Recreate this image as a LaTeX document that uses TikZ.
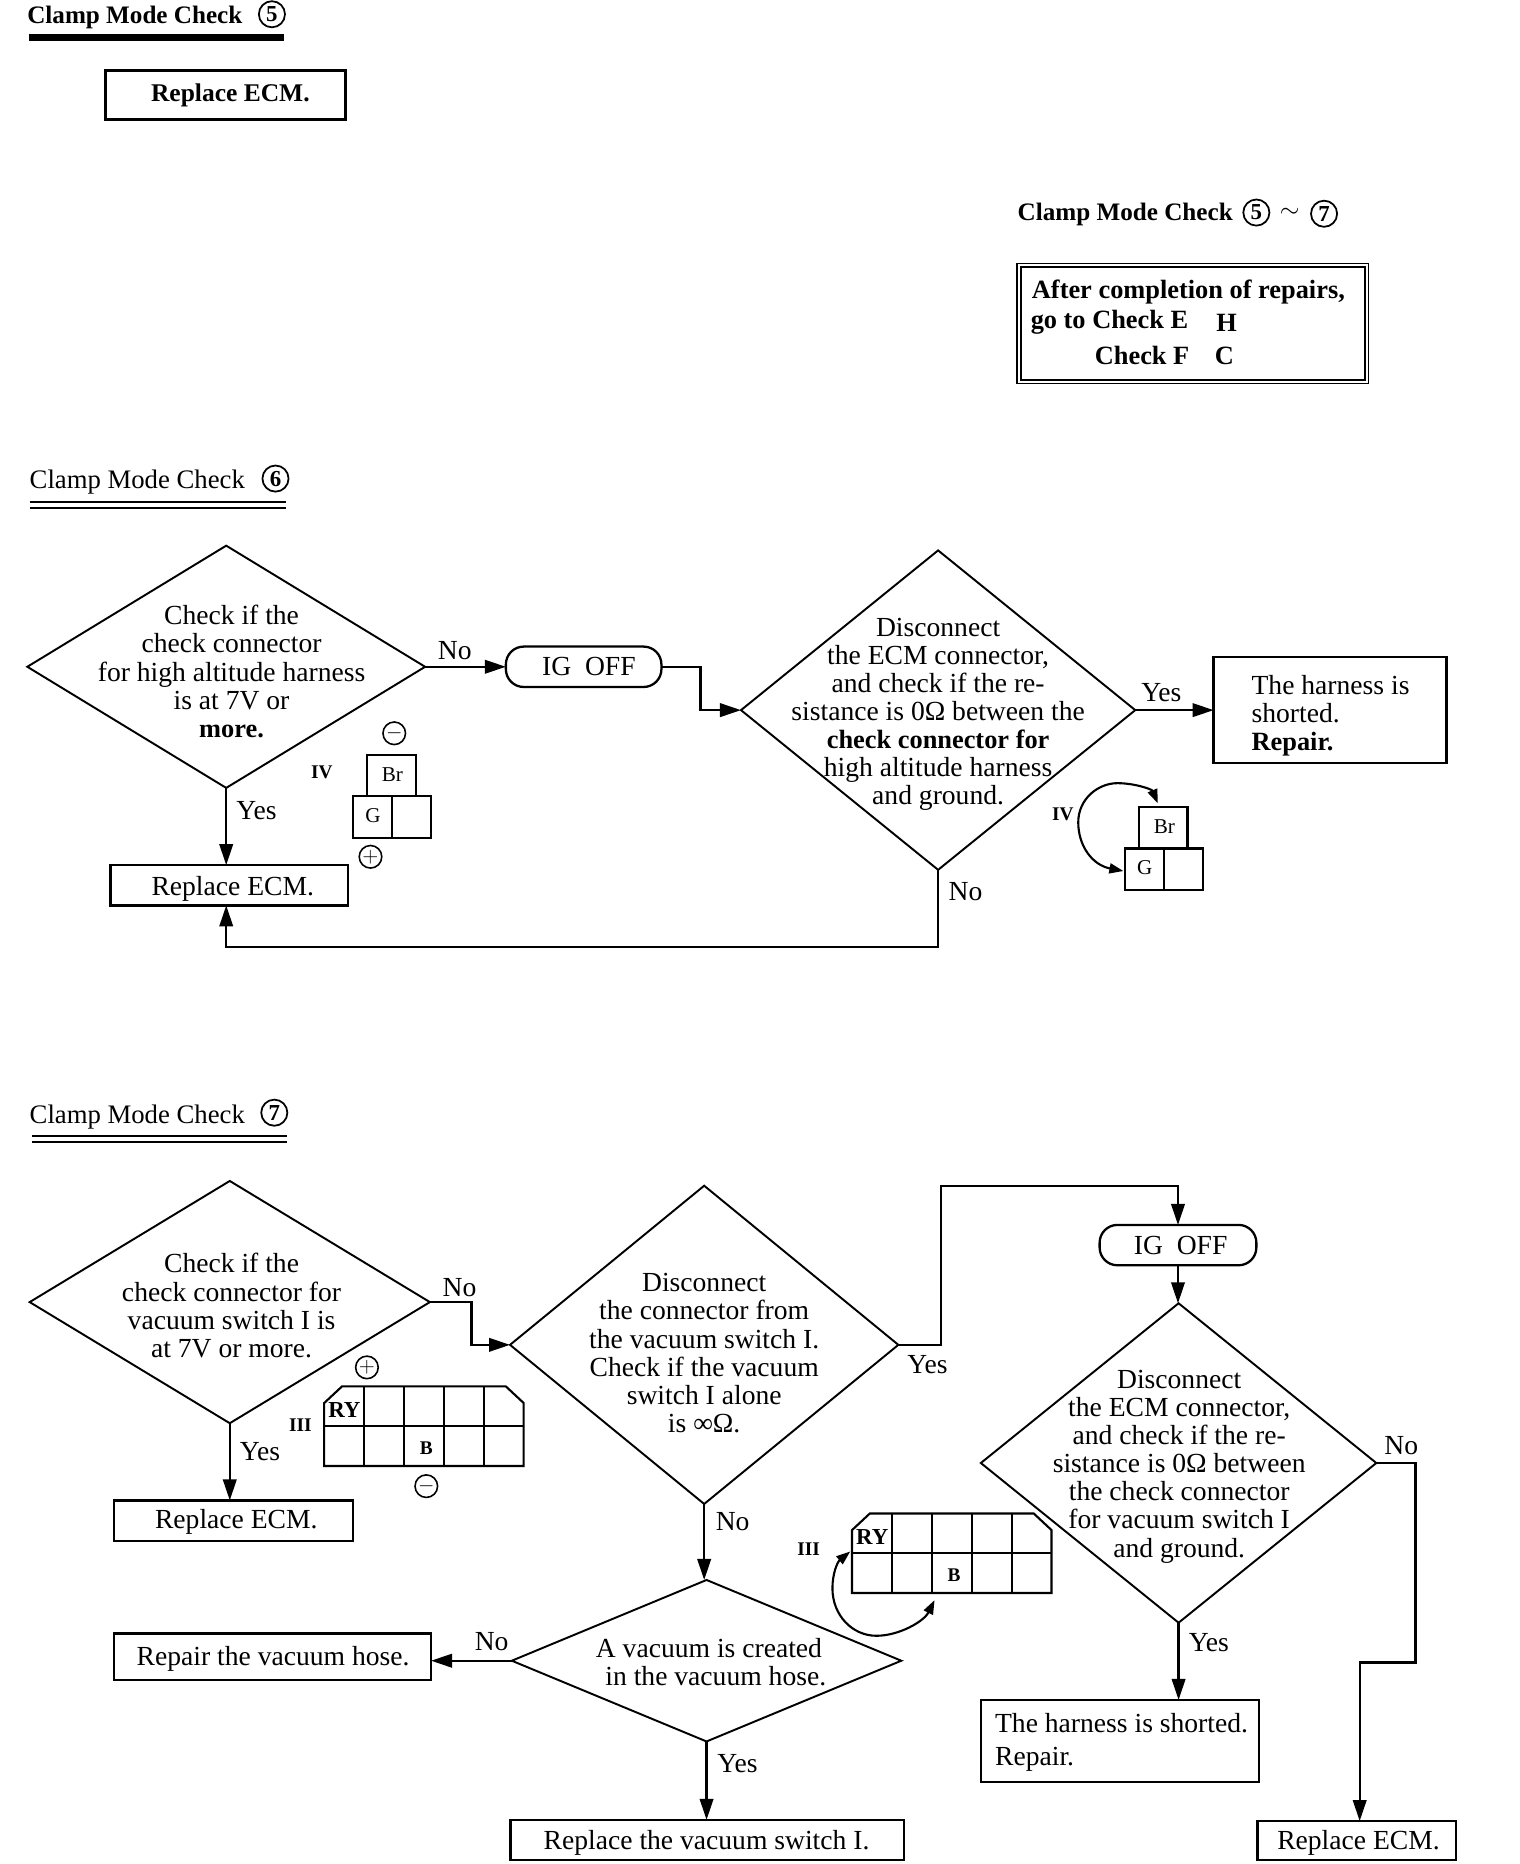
\documentclass[tikz,border=0pt]{standalone}
\usepackage{fontspec}
\setmainfont{Liberation Serif}
\usetikzlibrary{shapes.geometric,arrows.meta}

\def\un{0.02375cm}
\newcommand{\boldtxt}{\fontsize{15}{16}\selectfont\bfseries}

\tikzset{
	every node/.style={font=\fontsize{15.7}{16}\selectfont, inner sep=0pt, outer sep=0pt},
	sized/.style 2 args={minimum width=#1*\un, minimum height=#2*\un},
	decision/.style={draw, shape=diamond, line width=1.1pt},
	actionbox/.style={draw, rectangle, line width=1.3pt, align=left},
	igbox/.style={draw, rectangle, rounded corners=15*\un, line width=1.3pt},
	txt/.style={align=center},
	header/.style={anchor=base west, font=\fontsize{15.2}{16}\selectfont},
	boldheader/.style={anchor=base west, font=\fontsize{14.3}{16}\selectfont\bfseries},
	circnum/.style={draw, circle, line width=1pt, minimum size=22*\un, font=\fontsize{13}{13}\selectfont\bfseries},
	circsign/.style={draw, circle, line width=0.9pt, minimum size=19*\un, font=\fontsize{12}{12}\selectfont\bfseries},
	termfont/.style={font=\fontsize{12}{12}\selectfont},
	romfont/.style={font=\fontsize{11}{11}\selectfont\bfseries},
	flow/.style={line width=1.3pt, -{Triangle[length=4.2mm,width=2.7mm]}},
	probe/.style={line width=1.2pt, {Triangle[length=2.8mm,width=2mm]}-{Triangle[length=2.8mm,width=2mm]}},
	term/.style={line width=1.2pt}
}

\begin{document}
\begin{tikzpicture}[x=\un, y=-\un]
	\path[use as bounding box] (0,-1.5) rectangle (1280,1568.2);

	%check 5
	\node[boldheader] (headFive) at (23,18.5) {Clamp Mode Check};
	\node[circnum] (numFive) at (229,10.5) {5};
	\draw[line width=4pt] (24,30) -- (239,30);
	\node[actionbox, sized={202}{41}, line width=1.6pt] (replaceA) at (190,78.5) {};
	\node[txt, font=\fontsize{14.5}{16}\selectfont\bfseries] (replaceAtxt) at (194,79) {Replace ECM.};

	%repairs note
	\node[boldheader] (headNote) at (857,184.5) {Clamp Mode Check};
	\node[circnum] (numNoteA) at (1058,177.5) {5};
	\node (tildeNote) at (1086,178) {$\sim$};
	\node[circnum] (numNoteB) at (1115,178.5) {7};
	\node[draw, rectangle, double, double distance=1.2pt, line width=0.9pt, sized={293}{98}] (noteBox) at (1004.5,271) {};
	\node[anchor=west, font=\boldtxt] (noteA) at (869,244) {After completion of repairs,};
	\node[anchor=west, font=\boldtxt] (noteB) at (868,270) {go to Check E};
	\node[anchor=west, font=\boldtxt] (noteC) at (922,298) {Check F};
	\node[font=\boldtxt] (noteD) at (1033,270) {H};
	\node[font=\boldtxt] (noteE) at (1031,298) {C};

	%check 6
	\node[header] (headSix) at (25,409.5) {Clamp Mode Check};
	\node[circnum] (numSix) at (232,401.5) {6};
	\draw[line width=1pt] (25,421.5) -- (241,421.5);
	\draw[line width=1pt] (25,426) -- (241,426);

	\node[decision, sized={335}{204}] (chkHigh) at (190.5,560) {};
	\node[txt] (chkHighTxt) at (195,564) {Check if the\\check connector\\for high altitude harness\\is at 7V or\\\boldtxt more.};
	\node[igbox, sized={131}{34}] (igOffA) at (491.5,560) {\hspace*{6pt}IG\ \ OFF};
	\node[decision, sized={332}{269}] (discEcmA) at (790,596.5) {};
	\node[txt] (discEcmAtxt) at (790,600) {Disconnect\\the ECM connector,\\and check if the re-\\sistance is 0Ω between the\\\boldtxt check connector for\\high altitude harness\\and ground.};
	\node[actionbox, sized={196}{89}] (shortedA) at (1120,596.5) {};
	\node[anchor=west, align=left] (shortedAtxt) at (1054,601) {The harness is\\shorted.\\\boldtxt Repair.};
	\node[actionbox, sized={200}{34}] (replaceB) at (193,744) {};
	\node[txt] (replaceBtxt) at (196,747) {Replace ECM.};

	\draw[flow] (chkHigh.east) -- (igOffA.west);
	\draw[flow] (igOffA.east) -- ++(33,0) |- (discEcmA.west);
	\draw[flow] (discEcmA.east) -- (shortedA.west |- discEcmA.east);
	\draw[flow] (chkHigh.south) -- (chkHigh.south |- replaceB.north);
	\draw[flow] (discEcmA.south) -- ++(0,65) -| (chkHigh.south |- replaceB.south);

	\node (noA) at (383,546) {No};
	\node (yesA) at (216,681) {Yes};
	\node (yesB) at (978,582) {Yes};
	\node (noB) at (813,749) {No};

	%connector IV, both views
	\foreach \bx/\by/\bn in {297/634/left,947/678/right}{
		\draw[term] (\bx+12,\by+35) rectangle (\bx+53,\by);
		\draw[term] (\bx,\by+35) rectangle (\bx+66,\by+70);
		\draw[term] (\bx+33,\by+35) -- (\bx+33,\by+70);
		\node[termfont] (br\bn) at (\bx+33.5,\by+17) {Br};
		\node[termfont] (g\bn) at (\bx+17,\by+51) {G};
	}
	\node[romfont] (romA) at (271,649) {IV};
	\node[romfont] (romB) at (895,684) {IV};
	\node[circsign] (signMinusA) at (332,616) {$-$};
	\node[circsign] (signPlusA) at (312,720) {$+$};
	\coordinate (probeBr) at (975,675);
	\coordinate (probeG) at (946,732);
	\draw[probe] (probeG) .. controls (920,727) and (908,711) .. (908,691)
		.. controls (908,671) and (925,658) .. (941,658)
		.. controls (955,658) and (970,663) .. (probeBr);

	%check 7
	\node[header] (headSeven) at (25,944.5) {Clamp Mode Check};
	\node[circnum] (numSeven) at (231,935.5) {7};
	\draw[line width=1pt] (27,955) -- (242,955);
	\draw[line width=1.4pt] (27,960) -- (242,960);

	\node[decision, sized={337}{204}] (chkVac) at (193.5,1095) {};
	\node[txt] (chkVacTxt) at (195,1098) {Check if the\\check connector for\\vacuum switch I is\\at 7V or more.};
	\node[decision, sized={327}{268}] (discVac) at (593,1131) {};
	\node[txt] (discVacTxt) at (593,1138) {Disconnect\\the connector from\\the vacuum switch I.\\Check if the vacuum\\switch I alone\\is ∞Ω.};
	\node[igbox, sized={132}{34}] (igOffB) at (992,1047) {\hspace*{3pt}IG\ \ OFF};
	\node[decision, sized={333}{269}] (discEcmB) at (992.5,1230.5) {};
	\node[txt] (discEcmBtxt) at (993,1233.5) {Disconnect\\the ECM connector,\\and check if the re-\\sistance is 0Ω between\\the check connector\\for vacuum switch I\\and ground.};
	\node[decision, sized={328}{136}] (chkHose) at (595,1397) {};
	\node[txt] (chkHoseTxt) at (597,1398) {A vacuum is created\\\ \ in the vacuum hose.};
	\node[actionbox, sized={201}{34}] (replaceC) at (196.5,1279) {};
	\node[txt] (replaceCtxt) at (199,1280) {Replace ECM.};
	\node[actionbox, sized={267}{39}] (repairHose) at (229.5,1393.5) {};
	\node[txt] (repairHoseTxt) at (230,1395.5) {Repair the vacuum hose.};
	\node[actionbox, sized={331}{34}] (replaceSwitch) at (595.5,1548) {};
	\node[txt] (replaceSwitchTxt) at (595,1550) {Replace the vacuum switch I.};
	\node[actionbox, sized={234}{69}] (shortedB) at (943,1464.5) {};
	\node[anchor=west, align=left, font=\fontsize{15.7}{18.85}\selectfont] (shortedBtxt) at (838,1466) {The harness is shorted.\\Repair.};
	\node[actionbox, sized={167}{33}] (replaceD) at (1142.5,1548.5) {};
	\node[txt] (replaceDtxt) at (1144,1550) {Replace ECM.};

	\draw[flow] (chkVac.south) -- (chkVac.south |- replaceC.north);
	\draw[flow] (chkVac.east) -- ++(35,0) |- (discVac.west);
	\draw[flow] (discVac.east) -- ++(36,0) -- ++(0,-134) -| (igOffB.north);
	\draw[flow] (igOffB.south) -- (igOffB.south |- discEcmB.north);
	\draw[flow] (discVac.south) -- (discVac.south |- chkHose.north);
	\draw[flow] (chkHose.west) -- (chkHose.west -| repairHose.east);
	\draw[flow] (chkHose.south) -- (chkHose.south |- replaceSwitch.north);
	\draw[flow] (discEcmB.south) -- (discEcmB.south |- shortedB.north);
	\draw[flow] (discEcmB.east) -- ++(33,0) -- ++(0,168) -| ([xshift=2.5*\un]replaceD.north);

	\node (noC) at (387,1083) {No};
	\node (yesC) at (219,1221) {Yes};
	\node (yesD) at (781,1148) {Yes};
	\node (noD) at (617,1280) {No};
	\node (noE) at (414,1381) {No};
	\node (yesE) at (621,1484) {Yes};
	\node (yesF) at (1018,1382) {Yes};
	\node (noF) at (1180,1216) {No};

	%connector III, both views
	\foreach \gx/\gy/\gn in {273/1166/left,717.5/1273/right}{
		\draw[term] (\gx,\gy+14) -- (\gx+15,\gy) -- (\gx+153,\gy) -- (\gx+168,\gy+14)
			-- (\gx+168,\gy+67) -- (\gx,\gy+67) -- cycle;
		\draw[term] (\gx,\gy+33.5) -- (\gx+168,\gy+33.5);
		\foreach \col in {1,...,4}
			\draw[term] (\gx+33.6*\col,\gy) -- (\gx+33.6*\col,\gy+67);
		\node[font=\fontsize{13}{13}\selectfont\bfseries] (ry\gn) at (\gx+17,\gy+20) {RY};
		\node[font=\fontsize{11}{11}\selectfont\bfseries] (b\gn) at (\gx+86,\gy+52) {B};
	}
	\node[romfont] (romC) at (253,1199) {III};
	\node[romfont] (romD) at (681,1303) {III};
	\node[circsign] (signPlusB) at (309,1150) {$+$};
	\node[circsign] (signMinusB) at (359,1250) {$-$};
	\coordinate (probeRy) at (716,1305);
	\coordinate (probeB) at (787,1346);
	\draw[probe] (probeRy) .. controls (705,1314) and (701,1324) .. (701,1336)
		.. controls (701,1359) and (718,1376) .. (738,1376)
		.. controls (757,1376) and (778,1364) .. (probeB);
\end{tikzpicture}
\end{document}
